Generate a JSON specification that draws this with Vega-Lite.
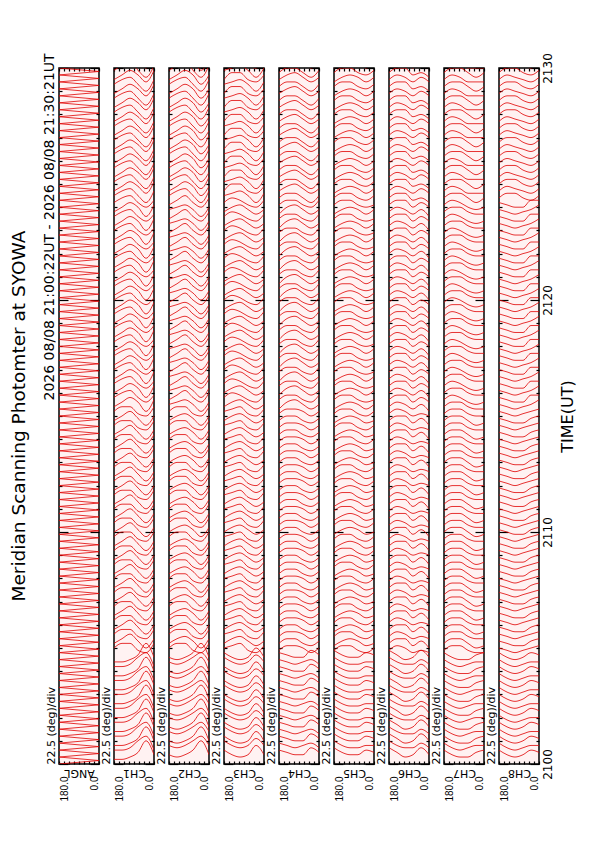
{
  "$schema": "https://vega.github.io/schema/vega-lite/v6.json",
  "padding": {"left": 10, "top": 51, "right": 5, "bottom": 5},
  "background": "white",
  "title": {"text": "Meridian Scanning Photomter at SYOWA", "orient": "left", "anchor": "middle", "frame": "group", "fontSize": 18.5, "offset": 14},
  "datasets": {
    "angl": [{"x": [180,0,180,0,180,0,180,0,180,0,180,0,180,0,180,0,180,0,180,0,180,0,180,0,180,0,180,0,180,0,180,0,180,0,180,0,180,0,180,0,180,0,180,0,180,0,180,0,180,0,180,0,180,0,180,0,180,0,180,0,180,0,180,0,180,0,180,0,180,0,180,0,180,0,180,0,180,0,180,0,180,0,180,0,180,0,180,0,180,0,180,0,180,0,180,0,180,0,180,0,180,0,180,0,180,0,180,0,180,0,180,0,180,0,180,0,180,0,180,0,180,0,180,0,180,0,180,0,180,0,180,0,180,0,180,0,180,0,180,0,180,0,180,0,180,0,180,0,180,0,180,0,180,0,180,0,180,0,180,0,180,0,180,0,180,0,180,0,180,0,180,0,180,0,180,0,180,0,180,0,180,0,180,0,180,0,180,0,180,0,180,0,180,0,180,0,180,0,180,0,180],
      "y": [0,1.5,3,4.5,6,7.5,9,10.5,12,13.5,15,16.5,18,19.5,21,22.5,24,25.5,27,28.5,30,31.5,33,34.5,36,37.5,39,40.5,42,43.5,45,46.5,48,49.5,51,52.5,54,55.5,57,58.5,60,61.5,63,64.5,66,67.5,69,70.5,72,73.5,75,76.5,78,79.5,81,82.5,84,85.5,87,88.5,90,91.5,93,94.5,96,97.5,99,100.5,102,103.5,105,106.5,108,109.5,111,112.5,114,115.5,117,118.5,120,121.5,123,124.5,126,127.5,129,130.5,132,133.5,135,136.5,138,139.5,141,142.5,144,145.5,147,148.5,150,151.5,153,154.5,156,157.5,159,160.5,162,163.5,165,166.5,168,169.5,171,172.5,174,175.5,177,178.5,180,181.5,183,184.5,186,187.5,189,190.5,192,193.5,195,196.5,198,199.5,201,202.5,204,205.5,207,208.5,210,211.5,213,214.5,216,217.5,219,220.5,222,223.5,225,226.5,228,229.5,231,232.5,234,235.5,237,238.5,240,241.5,243,244.5,246,247.5,249,250.5,252,253.5,255,256.5,258,259.5,261,262.5,264,265.5,267,268.5,270,271.5,273,274.5,276,277.5,279,280.5,282,283.5,285,286.5,288,289.5,291,292.5,294,295.5,297,298.5,300]}],
    "scans": [
      {"t":2,"x":[180,144,108,72,36,0],"c1":[2,2,3,5,10,4],"c2":[4,3,4,6,10,4],"c3":[6,4,3,4,8,4],"c4":[6,5,4,4,7,5],"c5":[7,5,4,4,6,5],"c6":[7,5,3,4,7,4],"c7":[6,4,3,3,5,6],"c8":[6,4,3,4,6,5]},
      {"t":5,"x":[180,144,108,72,36,0],"c1":[6,6,7,10,12,6],"c2":[8,7,8,10,12,8],"c3":[10,8,7,8,11,8],"c4":[9,8,7,8,9,7],"c5":[10,8,7,7,8,8],"c6":[10,8,7,7,9,7],"c7":[9,7,6,7,8,8],"c8":[9,7,6,7,8,8]},
      {"t":8,"x":[180,144,108,72,36,0],"c1":[8,8,9,11,16,10],"c2":[10,9,10,12,16,10],"c3":[12,10,9,10,14,10],"c4":[12,11,10,10,13,11],"c5":[13,11,10,10,12,11],"c6":[13,11,9,10,13,10],"c7":[12,10,9,9,11,12],"c8":[12,10,9,10,12,11]},
      {"t":11,"x":[180,144,108,72,36,0],"c1":[12,12,13,16,18,12],"c2":[14,13,14,16,18,14],"c3":[16,14,13,14,17,14],"c4":[15,14,13,14,15,13],"c5":[16,14,13,13,14,14],"c6":[16,14,13,13,15,13],"c7":[15,13,12,13,14,14],"c8":[15,13,12,13,14,14]},
      {"t":14,"x":[180,144,108,72,36,0],"c1":[14,14,15,17,22,16],"c2":[16,15,16,18,22,16],"c3":[18,16,15,16,20,16],"c4":[18,17,16,16,19,17],"c5":[19,17,16,16,18,17],"c6":[19,17,15,16,19,16],"c7":[18,16,15,15,17,18],"c8":[18,16,15,16,18,17]},
      {"t":17,"x":[180,144,108,72,36,0],"c1":[18,18,19,22,24,18],"c2":[20,19,20,22,24,20],"c3":[22,20,19,20,23,20],"c4":[21,20,19,20,21,19],"c5":[22,20,19,19,20,20],"c6":[22,20,19,19,21,19],"c7":[21,19,18,19,20,20],"c8":[21,19,18,19,20,20]},
      {"t":20,"x":[180,144,108,72,36,0],"c1":[20,20,21,23,28,22],"c2":[22,21,22,24,28,22],"c3":[24,22,21,22,26,22],"c4":[24,23,22,22,25,23],"c5":[25,23,22,22,24,23],"c6":[25,23,21,22,25,22],"c7":[24,22,21,21,23,24],"c8":[24,22,21,22,24,23]},
      {"t":23,"x":[180,144,108,72,36,0],"c1":[24,24,25,28,30,24],"c2":[26,25,26,28,30,26],"c3":[28,26,25,26,29,26],"c4":[27,26,25,26,27,25],"c5":[28,26,25,25,26,26],"c6":[28,26,25,25,27,25],"c7":[27,25,24,25,26,26],"c8":[27,25,24,25,26,26]},
      {"t":26,"x":[180,144,108,72,36,0],"c1":[26,26,27,29,34,28],"c2":[28,27,28,30,34,28],"c3":[30,28,27,28,32,28],"c4":[30,29,28,28,31,29],"c5":[31,29,28,28,30,29],"c6":[31,29,27,28,31,28],"c7":[30,28,27,27,29,30],"c8":[30,28,27,28,30,29]},
      {"t":29,"x":[180,144,108,72,36,0],"c1":[30,30,31,34,36,30],"c2":[32,31,32,34,36,32],"c3":[34,32,31,32,35,32],"c4":[33,32,31,32,33,31],"c5":[34,32,31,31,32,32],"c6":[34,32,31,31,33,31],"c7":[33,31,30,31,32,32],"c8":[33,31,30,31,32,32]},
      {"t":32,"x":[180,144,108,72,36,0],"c1":[32,32,33,35,40,34],"c2":[34,33,34,36,40,34],"c3":[36,34,33,34,38,34],"c4":[36,35,34,34,37,35],"c5":[37,35,34,34,36,35],"c6":[37,35,33,34,37,34],"c7":[36,34,33,33,35,36],"c8":[36,34,33,34,36,35]},
      {"t":35,"x":[180,144,108,72,36,0],"c1":[36,36,37,40,42,36],"c2":[38,37,38,40,42,38],"c3":[40,38,37,38,41,38],"c4":[39,38,37,38,39,37],"c5":[40,38,37,37,38,38],"c6":[40,38,37,37,39,37],"c7":[39,37,36,37,38,38],"c8":[39,37,36,37,38,38]},
      {"t":38,"x":[180,144,108,72,36,0],"c1":[38,38,39,41,46,40],"c2":[40,39,40,42,46,40],"c3":[42,40,39,40,44,40],"c4":[42,41,40,40,43,41],"c5":[43,41,40,40,42,41],"c6":[43,41,39,40,43,40],"c7":[42,40,39,39,41,42],"c8":[42,40,39,40,42,41]},
      {"t":41,"x":[180,144,108,72,36,0],"c1":[42,42,43,46,48,42],"c2":[44,43,44,46,48,44],"c3":[46,44,43,44,47,44],"c4":[45,44,43,44,45,43],"c5":[46,44,43,43,44,44],"c6":[46,44,43,43,45,43],"c7":[45,43,42,43,44,44],"c8":[45,43,42,43,44,44]},
      {"t":44,"x":[180,144,108,72,36,0],"c1":[44,44,45,47,52,46],"c2":[46,45,46,48,52,46],"c3":[48,46,45,46,50,46],"c4":[48,47,46,46,49,47],"c5":[49,47,46,46,48,47],"c6":[49,47,45,46,49,46],"c7":[48,46,45,45,47,48],"c8":[48,46,45,46,48,47]},
      {"t":47,"x":[180,144,108,72,36,0],"c1":[50,52,52,49,48,52],"c2":[50,52,52,49,48,52],"c3":[50,51,52,49,48,51],"c4":[49,51,51,50,48,50],"c5":[49,51,51,49,48,50],"c6":[49,51,50,48,49,48],"c7":[49,51,51,49,48,48],"c8":[50,49,48,49,50,51]},
      {"t":50,"x":[180,144,108,72,36,0],"c1":[52,54,56,53,50,54],"c2":[52,54,55,53,50,54],"c3":[52,54,55,53,51,53],"c4":[52,54,54,52,51,53],"c5":[51,53,54,53,51,52],"c6":[52,54,54,51,53,50],"c7":[52,54,54,52,50,51],"c8":[53,52,51,51,53,54]},
      {"t":53,"x":[180,144,108,72,36,0],"c1":[56,58,58,55,54,58],"c2":[56,58,58,55,54,58],"c3":[56,57,58,55,54,57],"c4":[55,57,57,56,54,56],"c5":[55,57,57,55,54,56],"c6":[55,57,56,54,55,54],"c7":[55,57,57,55,54,54],"c8":[56,55,54,55,56,57]},
      {"t":56,"x":[180,144,108,72,36,0],"c1":[58,60,62,59,56,60],"c2":[58,60,61,59,56,60],"c3":[58,60,61,59,57,59],"c4":[58,60,60,58,57,59],"c5":[57,59,60,59,57,58],"c6":[58,60,60,57,59,56],"c7":[58,60,60,58,56,57],"c8":[59,58,57,57,59,60]},
      {"t":59,"x":[180,144,108,72,36,0],"c1":[62,64,64,61,60,64],"c2":[62,64,64,61,60,64],"c3":[62,63,64,61,60,63],"c4":[61,63,63,62,60,62],"c5":[61,63,63,61,60,62],"c6":[61,63,62,60,61,60],"c7":[61,63,63,61,60,60],"c8":[62,61,60,61,62,63]},
      {"t":62,"x":[180,144,108,72,36,0],"c1":[64,66,68,65,62,66],"c2":[64,66,67,65,62,66],"c3":[64,66,67,65,63,65],"c4":[64,66,66,64,63,65],"c5":[63,65,66,65,63,64],"c6":[64,66,66,63,65,62],"c7":[64,66,66,64,62,63],"c8":[65,64,63,63,65,66]},
      {"t":65,"x":[180,144,108,72,36,0],"c1":[68,70,70,67,66,70],"c2":[68,70,70,67,66,70],"c3":[68,69,70,67,66,69],"c4":[67,69,69,68,66,68],"c5":[67,69,69,67,66,68],"c6":[67,69,68,66,67,66],"c7":[67,69,69,67,66,66],"c8":[68,67,66,67,68,69]},
      {"t":68,"x":[180,144,108,72,36,0],"c1":[70,72,74,71,68,72],"c2":[70,72,73,71,68,72],"c3":[70,72,73,71,69,71],"c4":[70,72,72,70,69,71],"c5":[69,71,72,71,69,70],"c6":[70,72,72,69,71,68],"c7":[70,72,72,70,68,69],"c8":[71,70,69,69,71,72]},
      {"t":71,"x":[180,144,108,72,36,0],"c1":[74,76,76,73,72,76],"c2":[74,76,76,73,72,76],"c3":[74,75,76,73,72,75],"c4":[73,75,75,74,72,74],"c5":[73,75,75,73,72,74],"c6":[73,75,74,72,73,72],"c7":[73,75,75,73,72,72],"c8":[74,73,72,73,74,75]},
      {"t":74,"x":[180,144,108,72,36,0],"c1":[76,78,80,77,74,78],"c2":[76,78,79,77,74,78],"c3":[76,78,79,77,75,77],"c4":[76,78,78,76,75,77],"c5":[75,77,78,77,75,76],"c6":[76,78,78,75,77,74],"c7":[76,78,78,76,74,75],"c8":[77,76,75,75,77,78]},
      {"t":77,"x":[180,144,108,72,36,0],"c1":[80,82,82,79,78,82],"c2":[80,82,82,79,78,82],"c3":[80,81,82,79,78,81],"c4":[79,81,81,80,78,80],"c5":[79,81,81,79,78,80],"c6":[79,81,80,78,79,78],"c7":[79,81,81,79,78,78],"c8":[80,79,78,79,80,81]},
      {"t":80,"x":[180,144,108,72,36,0],"c1":[82,84,86,83,80,84],"c2":[82,84,85,83,80,84],"c3":[82,84,85,83,81,83],"c4":[82,84,84,82,81,83],"c5":[81,83,84,83,81,82],"c6":[82,84,84,81,83,80],"c7":[82,84,84,82,80,81],"c8":[83,82,81,81,83,84]},
      {"t":83,"x":[180,144,108,72,36,0],"c1":[86,88,88,85,84,88],"c2":[86,88,88,85,84,88],"c3":[86,87,88,85,84,87],"c4":[85,87,87,86,84,86],"c5":[85,87,87,85,84,86],"c6":[85,87,86,84,85,84],"c7":[85,87,87,85,84,84],"c8":[86,85,84,85,86,87]},
      {"t":86,"x":[180,144,108,72,36,0],"c1":[88,90,92,89,86,90],"c2":[88,90,91,89,86,90],"c3":[88,90,91,89,87,89],"c4":[88,90,90,88,87,89],"c5":[87,89,90,89,87,88],"c6":[88,90,90,87,89,86],"c7":[88,90,90,88,86,87],"c8":[89,88,87,87,89,90]},
      {"t":89,"x":[180,144,108,72,36,0],"c1":[92,94,94,91,90,94],"c2":[92,94,94,91,90,94],"c3":[92,93,94,91,90,93],"c4":[91,93,93,92,90,92],"c5":[91,93,93,91,90,92],"c6":[91,93,92,90,91,90],"c7":[91,93,93,91,90,90],"c8":[92,91,90,91,92,93]},
      {"t":92,"x":[180,144,108,72,36,0],"c1":[94,96,98,95,92,96],"c2":[94,96,97,95,92,96],"c3":[94,96,97,95,93,95],"c4":[94,96,96,94,93,95],"c5":[93,95,96,95,93,94],"c6":[94,96,96,93,95,92],"c7":[94,96,96,94,92,93],"c8":[95,94,93,93,95,96]},
      {"t":95,"x":[180,144,108,72,36,0],"c1":[98,100,100,97,96,100],"c2":[98,100,100,97,96,100],"c3":[98,99,100,97,96,99],"c4":[97,99,99,98,96,98],"c5":[97,99,99,97,96,98],"c6":[97,99,98,96,97,96],"c7":[97,99,99,97,96,96],"c8":[98,97,96,97,98,99]},
      {"t":98,"x":[180,144,108,72,36,0],"c1":[100,102,104,101,98,102],"c2":[100,102,103,101,98,102],"c3":[100,102,103,101,99,101],"c4":[100,102,102,100,99,101],"c5":[99,101,102,101,99,100],"c6":[100,102,102,99,101,98],"c7":[100,102,102,100,98,99],"c8":[101,100,99,99,101,102]},
      {"t":101,"x":[180,144,108,72,36,0],"c1":[104,106,106,103,102,106],"c2":[104,106,106,103,102,106],"c3":[104,105,106,103,102,105],"c4":[103,105,105,104,102,104],"c5":[103,105,105,103,102,104],"c6":[103,105,104,102,103,102],"c7":[103,105,105,103,102,102],"c8":[104,103,102,103,104,105]},
      {"t":104,"x":[180,144,108,72,36,0],"c1":[106,108,110,107,104,108],"c2":[106,108,109,107,104,108],"c3":[106,108,109,107,105,107],"c4":[106,108,108,106,105,107],"c5":[105,107,108,107,105,106],"c6":[106,108,108,105,107,104],"c7":[106,108,108,106,104,105],"c8":[107,106,105,105,107,108]},
      {"t":107,"x":[180,144,108,72,36,0],"c1":[110,112,112,109,108,112],"c2":[110,112,112,109,108,112],"c3":[110,111,112,109,108,111],"c4":[109,111,111,110,108,110],"c5":[109,111,111,109,108,110],"c6":[109,111,110,108,109,108],"c7":[109,111,111,109,108,108],"c8":[110,109,108,109,110,111]},
      {"t":110,"x":[180,144,108,72,36,0],"c1":[112,114,116,113,110,114],"c2":[112,114,115,113,110,114],"c3":[112,114,115,113,111,113],"c4":[112,114,114,112,111,113],"c5":[111,113,114,113,111,112],"c6":[112,114,114,111,113,110],"c7":[112,114,114,112,110,111],"c8":[113,112,111,111,113,114]},
      {"t":113,"x":[180,144,108,72,36,0],"c1":[116,118,118,115,114,118],"c2":[116,118,118,115,114,118],"c3":[116,117,118,115,114,117],"c4":[115,117,117,116,114,116],"c5":[115,117,117,115,114,116],"c6":[115,117,116,114,115,114],"c7":[115,117,117,115,114,114],"c8":[116,115,114,115,116,117]},
      {"t":116,"x":[180,144,108,72,36,0],"c1":[118,120,122,119,116,120],"c2":[118,120,121,119,116,120],"c3":[118,120,121,119,117,119],"c4":[118,120,120,118,117,119],"c5":[117,119,120,119,117,118],"c6":[118,120,120,117,119,116],"c7":[118,120,120,118,116,117],"c8":[119,118,117,117,119,120]},
      {"t":119,"x":[180,144,108,72,36,0],"c1":[122,124,124,121,120,124],"c2":[122,124,124,121,120,124],"c3":[122,123,124,121,120,123],"c4":[121,123,123,122,120,122],"c5":[121,123,123,121,120,122],"c6":[121,123,122,120,121,120],"c7":[121,123,123,121,120,120],"c8":[122,121,120,121,122,123]},
      {"t":122,"x":[180,144,108,72,36,0],"c1":[124,126,128,125,122,126],"c2":[124,126,127,125,122,126],"c3":[124,126,127,125,123,125],"c4":[124,126,126,124,123,125],"c5":[123,125,126,125,123,124],"c6":[124,126,126,123,125,122],"c7":[124,126,126,124,122,123],"c8":[125,124,123,123,125,126]},
      {"t":125,"x":[180,144,108,72,36,0],"c1":[128,130,130,127,126,130],"c2":[128,130,130,127,126,130],"c3":[128,129,130,127,126,129],"c4":[127,129,129,128,126,128],"c5":[127,129,129,127,126,128],"c6":[127,129,128,126,127,126],"c7":[127,129,129,127,126,126],"c8":[128,127,126,127,128,129]},
      {"t":128,"x":[180,144,108,72,36,0],"c1":[130,132,134,131,128,132],"c2":[130,132,133,131,128,132],"c3":[130,132,133,131,129,131],"c4":[130,132,132,130,129,131],"c5":[129,131,132,131,129,130],"c6":[130,132,132,129,131,128],"c7":[130,132,132,130,128,129],"c8":[131,130,129,129,131,132]},
      {"t":131,"x":[180,144,108,72,36,0],"c1":[134,136,136,133,132,136],"c2":[134,136,136,133,132,136],"c3":[134,135,136,133,132,135],"c4":[133,135,135,134,132,134],"c5":[133,135,135,133,132,134],"c6":[133,135,134,132,133,132],"c7":[133,135,135,133,132,132],"c8":[134,133,132,133,134,135]},
      {"t":134,"x":[180,144,108,72,36,0],"c1":[136,138,140,137,134,138],"c2":[136,138,139,137,134,138],"c3":[136,138,139,137,135,137],"c4":[136,138,138,136,135,137],"c5":[135,137,138,137,135,136],"c6":[136,138,138,135,137,134],"c7":[136,138,138,136,134,135],"c8":[137,136,135,135,137,138]},
      {"t":137,"x":[180,144,108,72,36,0],"c1":[140,142,142,139,138,142],"c2":[140,142,142,139,138,142],"c3":[140,141,142,139,138,141],"c4":[139,141,141,140,138,140],"c5":[139,141,141,139,138,140],"c6":[139,141,140,138,139,138],"c7":[139,141,141,139,138,138],"c8":[140,139,138,139,140,141]},
      {"t":140,"x":[180,144,108,72,36,0],"c1":[142,144,146,143,140,144],"c2":[142,144,145,143,140,144],"c3":[142,144,145,143,141,143],"c4":[142,144,144,142,141,143],"c5":[141,143,144,143,141,142],"c6":[142,144,144,141,143,140],"c7":[142,144,144,142,140,141],"c8":[143,142,141,141,143,144]},
      {"t":143,"x":[180,144,108,72,36,0],"c1":[146,148,148,145,144,148],"c2":[146,148,148,145,144,148],"c3":[146,147,148,145,144,147],"c4":[145,147,147,146,144,146],"c5":[145,147,147,145,144,146],"c6":[145,147,146,144,145,144],"c7":[145,147,147,145,144,144],"c8":[146,145,144,145,146,147]},
      {"t":146,"x":[180,144,108,72,36,0],"c1":[148,150,152,149,146,150],"c2":[148,150,151,149,146,150],"c3":[148,150,151,149,147,149],"c4":[148,150,150,148,147,149],"c5":[147,149,150,149,147,148],"c6":[148,150,150,147,149,146],"c7":[148,150,150,148,146,147],"c8":[149,148,147,147,149,150]},
      {"t":149,"x":[180,144,108,72,36,0],"c1":[152,154,154,151,150,154],"c2":[152,154,154,151,150,154],"c3":[152,153,154,151,150,153],"c4":[151,153,153,152,150,152],"c5":[151,153,153,151,150,152],"c6":[151,153,152,150,151,150],"c7":[151,153,153,151,150,150],"c8":[152,151,150,151,152,153]},
      {"t":152,"x":[180,144,108,72,36,0],"c1":[154,156,158,156,152,157],"c2":[155,156,157,155,152,156],"c3":[154,156,157,155,153,155],"c4":[153,156,157,155,153,155],"c5":[153,155,156,155,153,155],"c6":[154,156,155,153,155,152],"c7":[154,156,156,154,153,153],"c8":[155,154,153,154,155,157]},
      {"t":155,"x":[180,144,108,72,36,0],"c1":[158,160,161,158,156,159],"c2":[157,159,161,158,156,160],"c3":[158,160,159,157,156,159],"c4":[157,159,159,157,156,159],"c5":[157,159,159,157,156,157],"c6":[157,159,159,156,158,156],"c7":[157,159,158,156,155,156],"c8":[158,157,156,156,159,159]},
      {"t":158,"x":[180,144,108,72,36,0],"c1":[160,162,164,162,158,163],"c2":[161,162,163,161,158,162],"c3":[160,162,163,161,159,161],"c4":[159,162,163,161,159,161],"c5":[159,161,162,161,159,161],"c6":[160,162,161,159,161,158],"c7":[160,162,162,160,159,159],"c8":[161,160,159,160,161,163]},
      {"t":161,"x":[180,144,108,72,36,0],"c1":[164,166,167,164,162,165],"c2":[163,165,167,164,162,166],"c3":[164,166,165,163,162,165],"c4":[163,165,165,163,162,165],"c5":[163,165,165,163,162,163],"c6":[163,165,165,162,164,162],"c7":[163,165,164,162,161,162],"c8":[164,163,162,162,165,165]},
      {"t":164,"x":[180,144,108,72,36,0],"c1":[166,168,170,168,164,169],"c2":[167,168,169,167,164,168],"c3":[166,168,169,167,165,167],"c4":[165,168,169,167,165,167],"c5":[165,167,168,167,165,167],"c6":[166,168,167,165,167,164],"c7":[166,168,168,166,165,165],"c8":[167,166,165,166,167,169]},
      {"t":167,"x":[180,144,108,72,36,0],"c1":[170,172,173,170,168,171],"c2":[169,171,173,170,168,172],"c3":[170,172,171,169,168,171],"c4":[169,171,171,169,168,171],"c5":[169,171,171,169,168,169],"c6":[169,171,171,168,170,168],"c7":[169,171,170,168,167,168],"c8":[170,169,168,168,171,171]},
      {"t":170,"x":[180,144,108,72,36,0],"c1":[172,174,176,174,170,175],"c2":[173,174,175,173,170,174],"c3":[172,174,175,173,171,173],"c4":[171,174,175,173,171,173],"c5":[171,173,174,173,171,173],"c6":[172,174,173,171,173,170],"c7":[172,174,174,172,171,171],"c8":[173,172,171,172,173,175]},
      {"t":173,"x":[180,144,108,72,36,0],"c1":[176,178,179,176,174,177],"c2":[175,177,179,176,174,178],"c3":[176,178,177,175,174,177],"c4":[175,177,177,175,174,177],"c5":[175,177,177,175,174,175],"c6":[175,177,177,174,176,174],"c7":[175,177,176,174,173,174],"c8":[176,175,174,174,177,177]},
      {"t":176,"x":[180,144,108,72,36,0],"c1":[178,180,182,180,176,181],"c2":[179,180,181,179,176,180],"c3":[178,180,181,179,177,179],"c4":[177,180,181,179,177,179],"c5":[177,179,180,179,177,179],"c6":[178,180,179,177,179,176],"c7":[178,180,180,178,177,177],"c8":[179,178,177,178,179,181]},
      {"t":179,"x":[180,144,108,72,36,0],"c1":[182,184,185,182,180,183],"c2":[181,183,185,182,180,184],"c3":[182,184,183,181,180,183],"c4":[181,183,183,181,180,183],"c5":[181,183,183,181,180,181],"c6":[181,183,183,180,182,180],"c7":[181,183,182,180,179,180],"c8":[182,181,180,180,183,183]},
      {"t":182,"x":[180,144,108,72,36,0],"c1":[184,186,188,186,182,187],"c2":[185,186,187,185,182,186],"c3":[184,186,187,185,183,185],"c4":[183,186,187,185,183,185],"c5":[183,185,186,185,183,185],"c6":[184,186,185,183,185,182],"c7":[184,186,186,184,183,183],"c8":[185,184,183,184,185,187]},
      {"t":185,"x":[180,144,108,72,36,0],"c1":[188,190,191,188,186,189],"c2":[187,189,191,188,186,190],"c3":[188,190,189,187,186,189],"c4":[187,189,189,187,186,189],"c5":[187,189,189,187,186,187],"c6":[187,189,189,186,188,186],"c7":[187,189,188,186,185,186],"c8":[188,187,186,186,189,189]},
      {"t":188,"x":[180,144,108,72,36,0],"c1":[190,192,194,192,188,193],"c2":[191,192,193,191,188,192],"c3":[190,192,193,191,189,191],"c4":[189,192,193,191,189,191],"c5":[189,191,192,191,189,191],"c6":[190,192,191,189,191,188],"c7":[190,192,192,190,189,189],"c8":[191,190,189,190,191,193]},
      {"t":191,"x":[180,144,108,72,36,0],"c1":[194,196,197,194,192,195],"c2":[193,195,197,194,192,196],"c3":[194,196,195,193,192,195],"c4":[193,195,195,193,192,195],"c5":[193,195,195,193,192,193],"c6":[193,195,195,192,194,192],"c7":[193,195,194,192,191,192],"c8":[194,193,192,192,195,195]},
      {"t":194,"x":[180,144,108,72,36,0],"c1":[196,198,200,198,194,199],"c2":[197,198,199,197,194,198],"c3":[196,198,199,197,195,197],"c4":[195,198,199,197,195,197],"c5":[195,197,198,197,195,197],"c6":[196,198,197,195,197,194],"c7":[196,198,198,196,195,195],"c8":[197,196,195,196,197,199]},
      {"t":197,"x":[180,144,108,72,36,0],"c1":[200,202,203,200,198,201],"c2":[199,201,203,200,198,202],"c3":[200,202,201,199,198,201],"c4":[199,201,201,199,198,201],"c5":[199,201,201,199,198,199],"c6":[199,201,201,198,200,198],"c7":[199,201,200,198,197,198],"c8":[200,199,198,198,201,201]},
      {"t":200,"x":[180,144,108,72,36,0],"c1":[202,204,206,204,200,205],"c2":[203,204,205,203,200,204],"c3":[202,204,205,203,201,203],"c4":[201,204,205,203,201,203],"c5":[201,203,204,203,201,203],"c6":[202,204,203,201,203,200],"c7":[202,204,204,202,201,201],"c8":[203,202,201,202,203,205]},
      {"t":203,"x":[180,144,108,72,36,0],"c1":[206,208,209,206,204,207],"c2":[205,207,209,206,204,208],"c3":[206,208,207,205,204,207],"c4":[205,207,207,205,204,207],"c5":[205,207,207,205,204,205],"c6":[205,207,207,204,206,204],"c7":[205,207,206,204,203,204],"c8":[206,205,204,204,207,207]},
      {"t":206,"x":[180,144,108,72,36,0],"c1":[208,210,212,210,206,211],"c2":[209,210,211,209,206,210],"c3":[208,210,211,209,207,209],"c4":[207,210,211,209,207,209],"c5":[207,209,210,209,207,209],"c6":[208,210,209,207,209,206],"c7":[208,210,210,208,207,207],"c8":[209,208,207,208,209,211]},
      {"t":209,"x":[180,144,108,72,36,0],"c1":[212,214,215,212,210,213],"c2":[211,213,215,212,210,214],"c3":[212,214,213,211,210,213],"c4":[211,213,213,211,210,213],"c5":[211,213,213,211,210,211],"c6":[211,213,213,210,212,210],"c7":[211,213,212,210,209,210],"c8":[212,211,210,210,213,213]},
      {"t":212,"x":[180,144,108,72,36,0],"c1":[214,216,218,216,212,217],"c2":[215,216,217,215,212,216],"c3":[214,216,217,215,213,215],"c4":[213,216,217,215,213,215],"c5":[213,215,216,215,213,215],"c6":[214,216,215,213,215,212],"c7":[214,216,216,214,213,213],"c8":[215,214,213,214,215,217]},
      {"t":215,"x":[180,144,108,72,36,0],"c1":[218,220,221,218,216,219],"c2":[217,219,221,218,216,220],"c3":[218,220,219,217,216,219],"c4":[217,219,219,217,216,219],"c5":[217,219,219,217,216,217],"c6":[217,219,219,216,218,216],"c7":[217,219,218,216,215,216],"c8":[218,217,216,216,219,219]},
      {"t":218,"x":[180,144,108,72,36,0],"c1":[220,222,224,222,218,223],"c2":[221,222,223,221,218,222],"c3":[220,222,223,221,219,221],"c4":[219,222,223,221,219,221],"c5":[219,221,222,221,219,221],"c6":[220,222,221,219,221,218],"c7":[220,222,222,220,219,219],"c8":[221,220,219,220,221,223]},
      {"t":221,"x":[180,144,108,72,36,0],"c1":[224,226,227,224,222,225],"c2":[223,225,227,224,222,226],"c3":[224,226,225,223,222,225],"c4":[223,225,225,223,222,225],"c5":[223,225,225,223,222,223],"c6":[223,225,225,222,224,222],"c7":[223,225,224,222,221,222],"c8":[224,223,222,222,225,225]},
      {"t":224,"x":[180,144,108,72,36,0],"c1":[226,228,230,228,224,229],"c2":[227,228,229,227,224,228],"c3":[226,228,229,227,225,227],"c4":[225,228,229,227,225,227],"c5":[225,227,228,227,225,227],"c6":[226,228,227,225,227,224],"c7":[226,228,228,226,225,225],"c8":[227,226,225,226,227,229]},
      {"t":227,"x":[180,144,108,72,36,0],"c1":[230,232,233,230,228,231],"c2":[229,231,233,230,228,232],"c3":[230,232,231,229,228,231],"c4":[229,231,231,229,228,231],"c5":[229,231,231,229,228,229],"c6":[229,231,231,228,230,228],"c7":[229,231,230,228,227,228],"c8":[230,229,228,228,231,231]},
      {"t":230,"x":[180,144,108,72,36,0],"c1":[232,234,236,234,230,235],"c2":[233,234,235,233,230,234],"c3":[232,234,235,233,231,233],"c4":[231,234,235,233,231,233],"c5":[231,233,234,233,231,233],"c6":[232,234,233,231,233,230],"c7":[232,234,234,232,231,231],"c8":[233,232,231,232,233,235]},
      {"t":233,"x":[180,144,108,72,36,0],"c1":[236,238,239,236,234,237],"c2":[235,237,239,236,234,238],"c3":[236,238,237,235,234,237],"c4":[235,237,237,235,234,237],"c5":[235,237,237,235,234,235],"c6":[235,237,237,234,236,234],"c7":[235,237,236,234,233,234],"c8":[236,235,234,234,237,237]},
      {"t":236,"x":[180,144,108,72,36,0],"c1":[238,240,242,240,236,241],"c2":[239,240,241,239,236,240],"c3":[238,240,241,239,237,239],"c4":[237,240,241,239,237,239],"c5":[237,239,240,239,237,239],"c6":[238,240,239,237,239,236],"c7":[238,240,240,238,237,237],"c8":[239,238,237,238,239,241]},
      {"t":239,"x":[180,144,108,72,36,0],"c1":[242,244,245,242,240,243],"c2":[241,243,245,242,240,244],"c3":[242,244,243,241,240,243],"c4":[241,243,243,241,240,243],"c5":[241,243,243,241,240,241],"c6":[241,243,243,240,242,240],"c7":[241,243,242,240,239,240],"c8":[242,241,240,240,243,243]},
      {"t":242,"x":[180,144,108,72,36,0],"c1":[245,247,248,245,242,247],"c2":[245,247,248,245,242,247],"c3":[245,246,247,245,242,246],"c4":[244,246,246,244,242,245],"c5":[244,246,246,244,243,245],"c6":[244,246,246,243,244,242],"c7":[244,246,246,244,242,244],"c8":[244,246,246,244,243,245]},
      {"t":245,"x":[180,144,108,72,36,0],"c1":[247,249,251,249,246,251],"c2":[247,249,251,249,245,249],"c3":[247,250,250,247,246,249],"c4":[247,249,250,248,246,248],"c5":[246,248,249,248,246,248],"c6":[247,249,248,246,248,246],"c7":[247,249,248,246,246,246],"c8":[247,249,248,247,246,248]},
      {"t":248,"x":[180,144,108,72,36,0],"c1":[251,253,254,251,248,253],"c2":[251,253,254,251,248,253],"c3":[251,252,253,251,248,252],"c4":[250,252,252,250,248,251],"c5":[250,252,252,250,249,251],"c6":[250,252,252,249,250,248],"c7":[250,252,252,250,248,250],"c8":[250,252,252,250,249,251]},
      {"t":251,"x":[180,144,108,72,36,0],"c1":[253,255,257,255,252,257],"c2":[253,255,257,255,251,255],"c3":[253,256,256,253,252,255],"c4":[253,255,256,254,252,254],"c5":[252,254,255,254,252,254],"c6":[253,255,254,252,254,252],"c7":[253,255,254,252,252,252],"c8":[253,255,254,253,252,254]},
      {"t":254,"x":[180,144,108,72,36,0],"c1":[257,259,260,257,254,259],"c2":[257,259,260,257,254,259],"c3":[257,258,259,257,254,258],"c4":[256,258,258,256,254,257],"c5":[256,258,258,256,255,257],"c6":[256,258,258,255,256,254],"c7":[256,258,258,256,254,256],"c8":[256,258,258,256,255,257]},
      {"t":257,"x":[180,144,108,72,36,0],"c1":[259,261,263,261,258,263],"c2":[259,261,263,261,257,261],"c3":[259,262,262,259,258,261],"c4":[259,261,262,260,258,260],"c5":[258,260,261,260,258,260],"c6":[259,261,260,258,260,258],"c7":[259,261,260,258,258,258],"c8":[259,261,260,259,258,260]},
      {"t":260,"x":[180,144,108,72,36,0],"c1":[263,265,266,263,260,265],"c2":[263,265,266,263,260,265],"c3":[263,264,265,263,260,264],"c4":[262,264,264,262,260,263],"c5":[262,264,264,262,261,263],"c6":[262,264,264,261,262,260],"c7":[262,264,264,262,260,262],"c8":[262,264,264,262,261,263]},
      {"t":263,"x":[180,144,108,72,36,0],"c1":[265,267,269,267,264,269],"c2":[265,267,269,267,263,267],"c3":[265,268,268,265,264,267],"c4":[265,267,268,266,264,266],"c5":[264,266,267,266,264,266],"c6":[265,267,266,264,266,264],"c7":[265,267,266,264,264,264],"c8":[265,267,266,265,264,266]},
      {"t":266,"x":[180,144,108,72,36,0],"c1":[269,271,272,269,266,271],"c2":[269,271,272,269,266,271],"c3":[269,270,271,269,266,270],"c4":[268,270,270,268,266,269],"c5":[268,270,270,268,267,269],"c6":[268,270,270,267,268,266],"c7":[268,270,270,268,266,268],"c8":[268,270,270,268,267,269]},
      {"t":269,"x":[180,144,108,72,36,0],"c1":[271,273,275,273,270,275],"c2":[271,273,275,273,269,273],"c3":[271,274,274,271,270,273],"c4":[271,273,274,272,270,272],"c5":[270,272,273,272,270,272],"c6":[271,273,272,270,272,270],"c7":[271,273,272,270,270,270],"c8":[271,273,272,271,270,272]},
      {"t":272,"x":[180,144,108,72,36,0],"c1":[275,277,278,275,272,277],"c2":[275,277,278,275,272,277],"c3":[275,276,277,275,272,276],"c4":[274,276,276,274,272,275],"c5":[274,276,276,274,273,275],"c6":[274,276,276,273,274,272],"c7":[274,276,276,274,272,274],"c8":[274,276,276,274,273,275]},
      {"t":275,"x":[180,144,108,72,36,0],"c1":[277,279,281,279,276,281],"c2":[277,279,281,279,275,279],"c3":[277,280,280,277,276,279],"c4":[277,279,280,278,276,278],"c5":[276,278,279,278,276,278],"c6":[277,279,278,276,278,276],"c7":[277,279,278,276,276,276],"c8":[277,279,278,277,276,278]},
      {"t":278,"x":[180,144,108,72,36,0],"c1":[281,283,284,281,278,283],"c2":[281,283,284,281,278,283],"c3":[281,282,283,281,278,282],"c4":[280,282,282,280,278,281],"c5":[280,282,282,280,279,281],"c6":[280,282,282,279,280,278],"c7":[280,282,282,280,278,280],"c8":[280,282,282,280,279,281]},
      {"t":281,"x":[180,144,108,72,36,0],"c1":[283,285,287,285,282,287],"c2":[283,285,287,285,281,285],"c3":[283,286,286,283,282,285],"c4":[283,285,286,284,282,284],"c5":[282,284,285,284,282,284],"c6":[283,285,284,282,284,282],"c7":[283,285,284,282,282,282],"c8":[283,285,284,283,282,284]},
      {"t":284,"x":[180,144,108,72,36,0],"c1":[287,289,290,287,284,289],"c2":[287,289,290,287,284,289],"c3":[287,288,289,287,284,288],"c4":[286,288,288,286,284,287],"c5":[286,288,288,286,285,287],"c6":[286,288,288,285,286,284],"c7":[286,288,288,286,284,286],"c8":[286,288,288,286,285,287]},
      {"t":287,"x":[180,144,108,72,36,0],"c1":[289,291,293,291,288,293],"c2":[289,291,293,291,287,291],"c3":[289,292,292,289,288,291],"c4":[289,291,292,290,288,290],"c5":[288,290,291,290,288,290],"c6":[289,291,290,288,290,288],"c7":[289,291,290,288,288,288],"c8":[289,291,290,289,288,290]},
      {"t":290,"x":[180,144,108,72,36,0],"c1":[293,295,296,293,290,295],"c2":[293,295,296,293,290,295],"c3":[293,294,295,293,290,294],"c4":[292,294,294,292,290,293],"c5":[292,294,294,292,291,293],"c6":[292,294,294,291,292,290],"c7":[292,294,294,292,290,292],"c8":[292,294,294,292,291,293]},
      {"t":293,"x":[180,144,108,72,36,0],"c1":[295,297,299,297,294,299],"c2":[295,297,299,297,293,297],"c3":[295,298,298,295,294,297],"c4":[295,297,298,296,294,296],"c5":[294,296,297,296,294,296],"c6":[295,297,296,294,296,294],"c7":[295,297,296,294,294,294],"c8":[295,297,296,295,294,296]},
      {"t":296,"x":[180,144,108,72,36,0],"c1":[299,301,302,299,296,301],"c2":[299,301,302,299,296,301],"c3":[299,300,301,299,296,300],"c4":[298,300,300,298,296,299],"c5":[298,300,300,298,297,299],"c6":[298,300,300,297,298,296],"c7":[298,300,300,298,296,298],"c8":[298,300,300,298,297,299]},
      {"t":299,"x":[180,144,108,72,36,0],"c1":[301,303,305,303,300,305],"c2":[301,303,305,303,299,303],"c3":[301,304,304,301,300,303],"c4":[301,303,304,302,300,302],"c5":[300,302,303,302,300,302],"c6":[301,303,302,300,302,300],"c7":[301,303,302,300,300,300],"c8":[301,303,302,301,300,302]}
    ]
  },
  "spacing": 15,
  "bounds": "flush",
  "hconcat": [
    {
      "width": 40, "height": 696,
      "data": {"name": "angl"},
      "transform": [{"flatten": ["x", "y"]}],
      "title": {"text": "2026 08/08 21:00:22UT - 2026 08/08 21:30:21UT", "orient": "left", "anchor": "end", "fontSize": 14, "offset": -12, "dx": 14},
      "layer": [
        {"mark": {"type": "line", "color": "#e00000", "strokeWidth": 0.8, "clip": true},
         "encoding": {
           "x": {"field": "x", "type": "quantitative", "scale": {"domain": [180, 0]}, "axis": {"orient": "bottom", "values": [180,157.5,135,112.5,90,67.5,45,22.5,0], "labelExpr": "datum.value==180||datum.value==0?format(datum.value,'.1f'):''", "labelOffset": {"condition": {"test": "datum.value==180", "value": 5}, "value": -5}, "title": "ANGL"}},
           "y": {"field": "y", "type": "quantitative", "scale": {"domain": [0, 300]}, "axis": {"orient": "left", "tickSize": {"condition": {"test": "datum.value%100==0", "value": -9}, "value": -3}, "title": "22.5 (deg)/div"}},
           "order": {"field": "y", "type": "quantitative"}}},
        {"mark": {"type": "point", "opacity": 0, "clip": true},
         "encoding": {
           "x": {"field": "x", "type": "quantitative", "scale": {"domain": [180, 0]}, "axis": {"orient": "top", "values": [180,157.5,135,112.5,90,67.5,45,22.5,0], "title": null}},
           "y": {"field": "y", "type": "quantitative", "scale": {"domain": [0, 300]}, "axis": {"orient": "right", "tickSize": {"condition": {"test": "datum.value%100==0", "value": -9}, "value": -3}, "title": null}}}}
      ],
      "resolve": {"axis": {"x": "independent", "y": "independent"}}
    },
    {
      "width": 40, "height": 696,
      "data": {"name": "scans"},
      "transform": [{"flatten": ["x", "c1"], "as": ["x", "y"]}],
      "layer": [
        {"mark": {"type": "line", "color": "#e00000", "strokeWidth": 0.8, "interpolate": "monotone", "clip": true},
         "encoding": {
           "x": {"field": "x", "type": "quantitative", "scale": {"domain": [180, 0]}, "axis": {"orient": "bottom", "values": [180,157.5,135,112.5,90,67.5,45,22.5,0], "labelExpr": "datum.value==180||datum.value==0?format(datum.value,'.1f'):''", "labelOffset": {"condition": {"test": "datum.value==180", "value": 5}, "value": -5}, "title": "CH1"}},
           "y": {"field": "y", "type": "quantitative", "scale": {"domain": [0, 300]}, "axis": {"orient": "left", "tickSize": {"condition": {"test": "datum.value%100==0", "value": -9}, "value": -3}, "title": "22.5 (deg)/div"}},
           "detail": {"field": "t"}}},
        {"mark": {"type": "point", "opacity": 0, "clip": true},
         "encoding": {
           "x": {"field": "x", "type": "quantitative", "scale": {"domain": [180, 0]}, "axis": {"orient": "top", "values": [180,157.5,135,112.5,90,67.5,45,22.5,0], "title": null}},
           "y": {"field": "y", "type": "quantitative", "scale": {"domain": [0, 300]}, "axis": {"orient": "right", "tickSize": {"condition": {"test": "datum.value%100==0", "value": -9}, "value": -3}, "title": null}}}}
      ],
      "resolve": {"axis": {"x": "independent", "y": "independent"}}
    },
    {
      "width": 40, "height": 696,
      "data": {"name": "scans"},
      "transform": [{"flatten": ["x", "c2"], "as": ["x", "y"]}],
      "layer": [
        {"mark": {"type": "line", "color": "#e00000", "strokeWidth": 0.8, "interpolate": "monotone", "clip": true},
         "encoding": {
           "x": {"field": "x", "type": "quantitative", "scale": {"domain": [180, 0]}, "axis": {"orient": "bottom", "values": [180,157.5,135,112.5,90,67.5,45,22.5,0], "labelExpr": "datum.value==180||datum.value==0?format(datum.value,'.1f'):''", "labelOffset": {"condition": {"test": "datum.value==180", "value": 5}, "value": -5}, "title": "CH2"}},
           "y": {"field": "y", "type": "quantitative", "scale": {"domain": [0, 300]}, "axis": {"orient": "left", "tickSize": {"condition": {"test": "datum.value%100==0", "value": -9}, "value": -3}, "title": "22.5 (deg)/div"}},
           "detail": {"field": "t"}}},
        {"mark": {"type": "point", "opacity": 0, "clip": true},
         "encoding": {
           "x": {"field": "x", "type": "quantitative", "scale": {"domain": [180, 0]}, "axis": {"orient": "top", "values": [180,157.5,135,112.5,90,67.5,45,22.5,0], "title": null}},
           "y": {"field": "y", "type": "quantitative", "scale": {"domain": [0, 300]}, "axis": {"orient": "right", "tickSize": {"condition": {"test": "datum.value%100==0", "value": -9}, "value": -3}, "title": null}}}}
      ],
      "resolve": {"axis": {"x": "independent", "y": "independent"}}
    },
    {
      "width": 40, "height": 696,
      "data": {"name": "scans"},
      "transform": [{"flatten": ["x", "c3"], "as": ["x", "y"]}],
      "layer": [
        {"mark": {"type": "line", "color": "#e00000", "strokeWidth": 0.8, "interpolate": "monotone", "clip": true},
         "encoding": {
           "x": {"field": "x", "type": "quantitative", "scale": {"domain": [180, 0]}, "axis": {"orient": "bottom", "values": [180,157.5,135,112.5,90,67.5,45,22.5,0], "labelExpr": "datum.value==180||datum.value==0?format(datum.value,'.1f'):''", "labelOffset": {"condition": {"test": "datum.value==180", "value": 5}, "value": -5}, "title": "CH3"}},
           "y": {"field": "y", "type": "quantitative", "scale": {"domain": [0, 300]}, "axis": {"orient": "left", "tickSize": {"condition": {"test": "datum.value%100==0", "value": -9}, "value": -3}, "title": "22.5 (deg)/div"}},
           "detail": {"field": "t"}}},
        {"mark": {"type": "point", "opacity": 0, "clip": true},
         "encoding": {
           "x": {"field": "x", "type": "quantitative", "scale": {"domain": [180, 0]}, "axis": {"orient": "top", "values": [180,157.5,135,112.5,90,67.5,45,22.5,0], "title": null}},
           "y": {"field": "y", "type": "quantitative", "scale": {"domain": [0, 300]}, "axis": {"orient": "right", "tickSize": {"condition": {"test": "datum.value%100==0", "value": -9}, "value": -3}, "title": null}}}}
      ],
      "resolve": {"axis": {"x": "independent", "y": "independent"}}
    },
    {
      "width": 40, "height": 696,
      "data": {"name": "scans"},
      "transform": [{"flatten": ["x", "c4"], "as": ["x", "y"]}],
      "layer": [
        {"mark": {"type": "line", "color": "#e00000", "strokeWidth": 0.8, "interpolate": "monotone", "clip": true},
         "encoding": {
           "x": {"field": "x", "type": "quantitative", "scale": {"domain": [180, 0]}, "axis": {"orient": "bottom", "values": [180,157.5,135,112.5,90,67.5,45,22.5,0], "labelExpr": "datum.value==180||datum.value==0?format(datum.value,'.1f'):''", "labelOffset": {"condition": {"test": "datum.value==180", "value": 5}, "value": -5}, "title": "CH4"}},
           "y": {"field": "y", "type": "quantitative", "scale": {"domain": [0, 300]}, "axis": {"orient": "left", "tickSize": {"condition": {"test": "datum.value%100==0", "value": -9}, "value": -3}, "title": "22.5 (deg)/div"}},
           "detail": {"field": "t"}}},
        {"mark": {"type": "point", "opacity": 0, "clip": true},
         "encoding": {
           "x": {"field": "x", "type": "quantitative", "scale": {"domain": [180, 0]}, "axis": {"orient": "top", "values": [180,157.5,135,112.5,90,67.5,45,22.5,0], "title": null}},
           "y": {"field": "y", "type": "quantitative", "scale": {"domain": [0, 300]}, "axis": {"orient": "right", "tickSize": {"condition": {"test": "datum.value%100==0", "value": -9}, "value": -3}, "title": null}}}}
      ],
      "resolve": {"axis": {"x": "independent", "y": "independent"}}
    },
    {
      "width": 40, "height": 696,
      "data": {"name": "scans"},
      "transform": [{"flatten": ["x", "c5"], "as": ["x", "y"]}],
      "layer": [
        {"mark": {"type": "line", "color": "#e00000", "strokeWidth": 0.8, "interpolate": "monotone", "clip": true},
         "encoding": {
           "x": {"field": "x", "type": "quantitative", "scale": {"domain": [180, 0]}, "axis": {"orient": "bottom", "values": [180,157.5,135,112.5,90,67.5,45,22.5,0], "labelExpr": "datum.value==180||datum.value==0?format(datum.value,'.1f'):''", "labelOffset": {"condition": {"test": "datum.value==180", "value": 5}, "value": -5}, "title": "CH5"}},
           "y": {"field": "y", "type": "quantitative", "scale": {"domain": [0, 300]}, "axis": {"orient": "left", "tickSize": {"condition": {"test": "datum.value%100==0", "value": -9}, "value": -3}, "title": "22.5 (deg)/div"}},
           "detail": {"field": "t"}}},
        {"mark": {"type": "point", "opacity": 0, "clip": true},
         "encoding": {
           "x": {"field": "x", "type": "quantitative", "scale": {"domain": [180, 0]}, "axis": {"orient": "top", "values": [180,157.5,135,112.5,90,67.5,45,22.5,0], "title": null}},
           "y": {"field": "y", "type": "quantitative", "scale": {"domain": [0, 300]}, "axis": {"orient": "right", "tickSize": {"condition": {"test": "datum.value%100==0", "value": -9}, "value": -3}, "title": null}}}}
      ],
      "resolve": {"axis": {"x": "independent", "y": "independent"}}
    },
    {
      "width": 40, "height": 696,
      "data": {"name": "scans"},
      "transform": [{"flatten": ["x", "c6"], "as": ["x", "y"]}],
      "layer": [
        {"mark": {"type": "line", "color": "#e00000", "strokeWidth": 0.8, "interpolate": "monotone", "clip": true},
         "encoding": {
           "x": {"field": "x", "type": "quantitative", "scale": {"domain": [180, 0]}, "axis": {"orient": "bottom", "values": [180,157.5,135,112.5,90,67.5,45,22.5,0], "labelExpr": "datum.value==180||datum.value==0?format(datum.value,'.1f'):''", "labelOffset": {"condition": {"test": "datum.value==180", "value": 5}, "value": -5}, "title": "CH6"}},
           "y": {"field": "y", "type": "quantitative", "scale": {"domain": [0, 300]}, "axis": {"orient": "left", "tickSize": {"condition": {"test": "datum.value%100==0", "value": -9}, "value": -3}, "title": "22.5 (deg)/div"}},
           "detail": {"field": "t"}}},
        {"mark": {"type": "point", "opacity": 0, "clip": true},
         "encoding": {
           "x": {"field": "x", "type": "quantitative", "scale": {"domain": [180, 0]}, "axis": {"orient": "top", "values": [180,157.5,135,112.5,90,67.5,45,22.5,0], "title": null}},
           "y": {"field": "y", "type": "quantitative", "scale": {"domain": [0, 300]}, "axis": {"orient": "right", "tickSize": {"condition": {"test": "datum.value%100==0", "value": -9}, "value": -3}, "title": null}}}}
      ],
      "resolve": {"axis": {"x": "independent", "y": "independent"}}
    },
    {
      "width": 40, "height": 696,
      "data": {"name": "scans"},
      "transform": [{"flatten": ["x", "c7"], "as": ["x", "y"]}],
      "layer": [
        {"mark": {"type": "line", "color": "#e00000", "strokeWidth": 0.8, "interpolate": "monotone", "clip": true},
         "encoding": {
           "x": {"field": "x", "type": "quantitative", "scale": {"domain": [180, 0]}, "axis": {"orient": "bottom", "values": [180,157.5,135,112.5,90,67.5,45,22.5,0], "labelExpr": "datum.value==180||datum.value==0?format(datum.value,'.1f'):''", "labelOffset": {"condition": {"test": "datum.value==180", "value": 5}, "value": -5}, "title": "CH7"}},
           "y": {"field": "y", "type": "quantitative", "scale": {"domain": [0, 300]}, "axis": {"orient": "left", "tickSize": {"condition": {"test": "datum.value%100==0", "value": -9}, "value": -3}, "title": "22.5 (deg)/div"}},
           "detail": {"field": "t"}}},
        {"mark": {"type": "point", "opacity": 0, "clip": true},
         "encoding": {
           "x": {"field": "x", "type": "quantitative", "scale": {"domain": [180, 0]}, "axis": {"orient": "top", "values": [180,157.5,135,112.5,90,67.5,45,22.5,0], "title": null}},
           "y": {"field": "y", "type": "quantitative", "scale": {"domain": [0, 300]}, "axis": {"orient": "right", "tickSize": {"condition": {"test": "datum.value%100==0", "value": -9}, "value": -3}, "title": null}}}}
      ],
      "resolve": {"axis": {"x": "independent", "y": "independent"}}
    },
    {
      "width": 40, "height": 696,
      "data": {"name": "scans"},
      "transform": [{"flatten": ["x", "c8"], "as": ["x", "y"]}],
      "layer": [
        {"mark": {"type": "line", "color": "#e00000", "strokeWidth": 0.8, "interpolate": "monotone", "clip": true},
         "encoding": {
           "x": {"field": "x", "type": "quantitative", "scale": {"domain": [180, 0]}, "axis": {"orient": "bottom", "values": [180,157.5,135,112.5,90,67.5,45,22.5,0], "labelExpr": "datum.value==180||datum.value==0?format(datum.value,'.1f'):''", "labelOffset": {"condition": {"test": "datum.value==180", "value": 5}, "value": -5}, "title": "CH8"}},
           "y": {"field": "y", "type": "quantitative", "scale": {"domain": [0, 300]}, "axis": {"orient": "left", "tickSize": {"condition": {"test": "datum.value%100==0", "value": -9}, "value": -3}, "title": "22.5 (deg)/div"}},
           "detail": {"field": "t"}}},
        {"mark": {"type": "point", "opacity": 0, "clip": true},
         "encoding": {
           "x": {"field": "x", "type": "quantitative", "scale": {"domain": [180, 0]}, "axis": {"orient": "top", "values": [180,157.5,135,112.5,90,67.5,45,22.5,0], "title": null}},
           "y": {"field": "y", "type": "quantitative", "scale": {"domain": [0, 300]}, "axis": {"orient": "right", "labels": true, "labelExpr": "datum.value%100==0?format(2100+datum.value/10,'d'):''", "labelAngle": -90, "labelAlign": "center", "labelBaseline": "top", "labelFontSize": 12, "labelPadding": 12, "labelOverlap": false, "labelFlush": false, "tickSize": {"condition": {"test": "datum.value%100==0", "value": -9}, "value": -3}, "title": "TIME(UT)", "titleAngle": -90, "titleBaseline": "top", "titleFontSize": 16, "titlePadding": 0}}}}
      ],
      "resolve": {"axis": {"x": "independent", "y": "independent"}}
    }
  ],
  "config": {
    "font": "DejaVu Sans",
    "view": {"stroke": "black", "strokeWidth": 1.5, "fill": "#fff2f2"},
    "axis": {"domain": false, "grid": false, "tickColor": "black", "tickWidth": 1.2, "labelColor": "black", "titleColor": "black", "titleFontWeight": "normal"},
    "axisY": {"tickCount": 30},
    "axisBottom": {"labelAngle": -90, "labelAlign": "right", "labelBaseline": "middle", "labelFont": "Liberation Sans", "labelFontSize": 10, "labelPadding": 15, "labelOverlap": false, "labelFlush": false, "tickSize": -3, "titleAngle": 180, "titleY": 8, "titleBaseline": "middle", "titleFontSize": 11},
    "axisTop": {"labels": false, "tickSize": -3},
    "axisLeft": {"labels": false, "titleAnchor": "start", "titleFontSize": 11, "titlePadding": 2},
    "axisRight": {"labels": false},
    "title": {"fontWeight": "normal", "color": "black"}
  }
}
